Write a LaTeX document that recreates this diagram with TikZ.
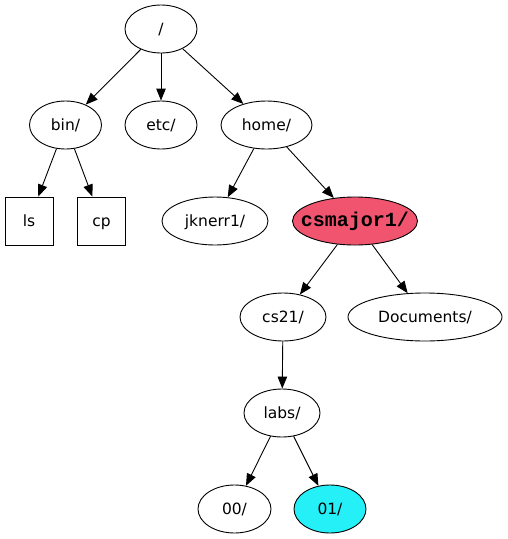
\documentclass[tikz,border=0pt]{standalone}
\usepackage{fontspec}
\setmainfont{DejaVu Sans}
\setmonofont{Liberation Mono}
\usepackage{tikz}
\usetikzlibrary{arrows.meta,shapes.geometric,calc}
\definecolor{hilite}{RGB}{240,84,110}
\definecolor{current}{RGB}{37,240,248}

\begin{document}
\begin{tikzpicture}[->,>={Triangle[length=12pt,width=9.5pt]},line width=0.9pt,
           x=1pt, y=-1pt,
           dir/.style={draw,ellipse,minimum height=48pt,inner sep=0pt,
             text height=12pt,text depth=2pt,
             font=\fontsize{15.5}{18}\selectfont},
           file/.style={draw,rectangle,minimum width=48pt,minimum height=48pt,
             inner sep=0pt,text height=12pt,text depth=2pt,
             font=\fontsize{15.5}{18}\selectfont}]
          \useasboundingbox (0, 0) rectangle (507, 539);
          \node[dir,minimum width=72pt] (root) at (161, 29) {/};
          \node[dir,minimum width=72pt] (bin) at (65.5, 125) {bin/};
          \node[dir,minimum width=72pt] (etc) at (161, 125) {etc/};
          \node[dir,minimum width=91pt] (home) at (266.5, 125) {home/};
          \node[file] (ls) at (29, 221) {ls};
          \node[file] (cp) at (101.5, 221) {cp};
          \node[dir,minimum width=106pt] (jknerr) at (215, 221) {jknerr1/};
          \node[dir,minimum width=125pt,fill=hilite] (csmajor) at (355, 221)
            {\makebox[0pt]{\fontsize{20}{22}\selectfont\texttt{\textbf{csmajor1/}}}};
          \node[dir,minimum width=86pt] (cs21) at (283, 317) {cs21/};
          \node[dir,minimum width=154pt] (docs) at (425, 317) {Documents/};
          \node[dir,minimum width=76pt] (labs) at (282, 413) {labs/};
          \node[dir,minimum width=73pt] (lab00) at (234.5, 509) {00/};
          \node[dir,minimum width=72pt,fill=current] (lab01) at (330, 509) {01/};
          \path (root) edge (bin)
                (root) edge (etc)
                (root) edge (home)
                (bin) edge (ls)
                (bin) edge (cp)
                (home) edge (jknerr)
                (home) edge (csmajor)
                (csmajor) edge (cs21)
                (csmajor) edge (docs)
                (cs21) edge (labs)
                (labs) edge (lab00)
                (labs) edge (lab01);
        %   \path (jknerr) edge[dashed] (cs21);
         \end{tikzpicture}
\end{document}
